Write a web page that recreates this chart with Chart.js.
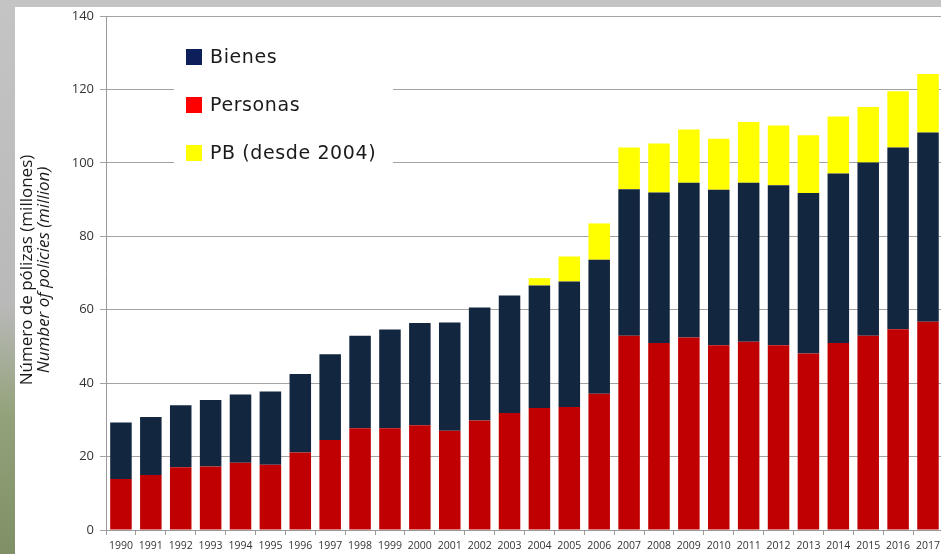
<!DOCTYPE html>
<html lang="es">
<head>
<meta charset="UTF-8" />
<title>Número de pólizas</title>
<script src="https://cdn.jsdelivr.net/npm/chart.js"></script>
<style>
  html, body { margin: 0; padding: 0; width: 941px; height: 554px; overflow: hidden; }
  body { background: linear-gradient(to bottom, #c4c4c4 0%, #b9b9b9 55%, #93a27a 75%, #7f8f66 100%); }
  #panel { position: absolute; left: 15px; top: 7px; width: 926px; height: 547px; background: #fff; overflow: hidden; }
</style>
</head>
<body>
<div id="panel"><canvas id="chart" width="930" height="547"></canvas></div>
<script>
// data (millions of policies)
var years = ["1990","1991","1992","1993","1994","1995","1996","1997","1998","1999","2000","2001","2002","2003",
             "2004","2005","2006","2007","2008","2009","2010","2011","2012","2013","2014","2015","2016","2017"];
var personas = [13.9, 15.0, 17.1, 17.3, 18.3, 17.8, 21.1, 24.5, 27.7, 27.7, 28.5, 27.0, 29.8, 31.9,
                33.2, 33.5, 37.1, 52.9, 50.9, 52.4, 50.3, 51.3, 50.3, 48.1, 50.9, 52.9, 54.7, 56.7];
var bienes = [15.4, 15.8, 16.9, 18.1, 18.6, 19.9, 21.4, 23.4, 25.2, 26.9, 27.9, 29.5, 30.8, 32.0,
              33.4, 34.2, 36.5, 39.9, 41.0, 42.2, 42.4, 43.3, 43.6, 43.7, 46.2, 47.2, 49.5, 51.6];
var pb = [null, null, null, null, null, null, null, null, null, null, null, null, null, null,
          2.0, 6.8, 9.9, 11.4, 13.4, 14.5, 13.9, 16.5, 16.3, 15.7, 15.5, 15.1, 15.3, 15.9];
var yTicks = [0, 20, 40, 60, 80, 100, 120, 140];

var legendItems = [
  { label: "Bienes", color: "#0d1f5a" },
  { label: "Personas", color: "#ff0000" },
  { label: "PB (desde 2004)", color: "#ffff00" }
];

// legend box sitting inside the plot, over the gridlines
var boxLegend = {
  id: "boxLegend",
  afterDraw: function (chart) {
    var ctx = chart.ctx;
    ctx.save();
    ctx.fillStyle = "#fff";
    ctx.fillRect(159, 23, 219, 150);
    ctx.font = "19px 'DejaVu Sans'";
    ctx.letterSpacing = "0.6px";
    ctx.textBaseline = "middle";
    legendItems.forEach(function (it, i) {
      var y = 42 + i * 48;
      ctx.fillStyle = it.color;
      ctx.fillRect(171, y, 16, 16);
      ctx.fillStyle = "#1a1a1a";
      ctx.fillText(it.label, 195, y + 9);
    });
    ctx.restore();
  }
};

// two-line y title, second line italic
var yTitle = {
  id: "yTitle",
  afterDraw: function (chart) {
    var ctx = chart.ctx;
    var cy = (chart.chartArea.top + chart.chartArea.bottom) / 2;
    ctx.save();
    ctx.fillStyle = "#1a1a1a";
    ctx.textAlign = "center";
    ctx.textBaseline = "middle";
    ctx.translate(12, cy - 3);
    ctx.rotate(-Math.PI / 2);
    ctx.font = "17px 'Open Sans'";
    ctx.fillText("Número de pólizas (millones)", 0, 0);
    ctx.font = "italic 17px 'Open Sans'";
    ctx.fillText("Number of policies (million)", 0, 17);
    ctx.restore();
  }
};

var ctx = document.getElementById("chart").getContext("2d");
var chart = new Chart(ctx, {
  type: "bar",
  plugins: [boxLegend, yTitle],
  data: {
    labels: years,
    datasets: [
      { label: "Personas", data: personas, backgroundColor: "#c00000" },
      { label: "Bienes", data: bienes, backgroundColor: "#13263f" },
      { label: "PB (desde 2004)", data: pb, backgroundColor: "#ffff00" }
    ]
  },
  options: {
    responsive: false,
    animation: false,
    layout: { padding: 0 },
    datasets: { bar: { categoryPercentage: 1, barPercentage: 0.72 } },
    scales: {
      x: {
        stacked: true,
        grid: { offset: true, drawOnChartArea: false, tickLength: 5, color: "#9a9a9a" },
        border: { color: "#9a9a9a" },
        ticks: { autoSkip: false, maxRotation: 0, padding: 5, color: "#333", font: { family: "'Open Sans'", size: 10.5 } },
        afterFit: function (s) { s.height = 24; }
      },
      y: {
        stacked: true,
        min: 0,
        max: 140,
        afterBuildTicks: function (s) { s.ticks = yTicks.map(function (v) { return { value: v }; }); },
        grid: { color: "#a3a3a3", tickLength: 6 },
        border: { color: "#9a9a9a" },
        ticks: { padding: 6, color: "#333", font: { family: "'Open Sans'", size: 13 } },
        afterFit: function (s) { s.width = 91; s.paddingTop = 9; s.paddingBottom = 0; }
      }
    },
    plugins: {
      legend: { display: false },
      tooltip: { enabled: false }
    }
  }
});
</script>
</body>
</html>
